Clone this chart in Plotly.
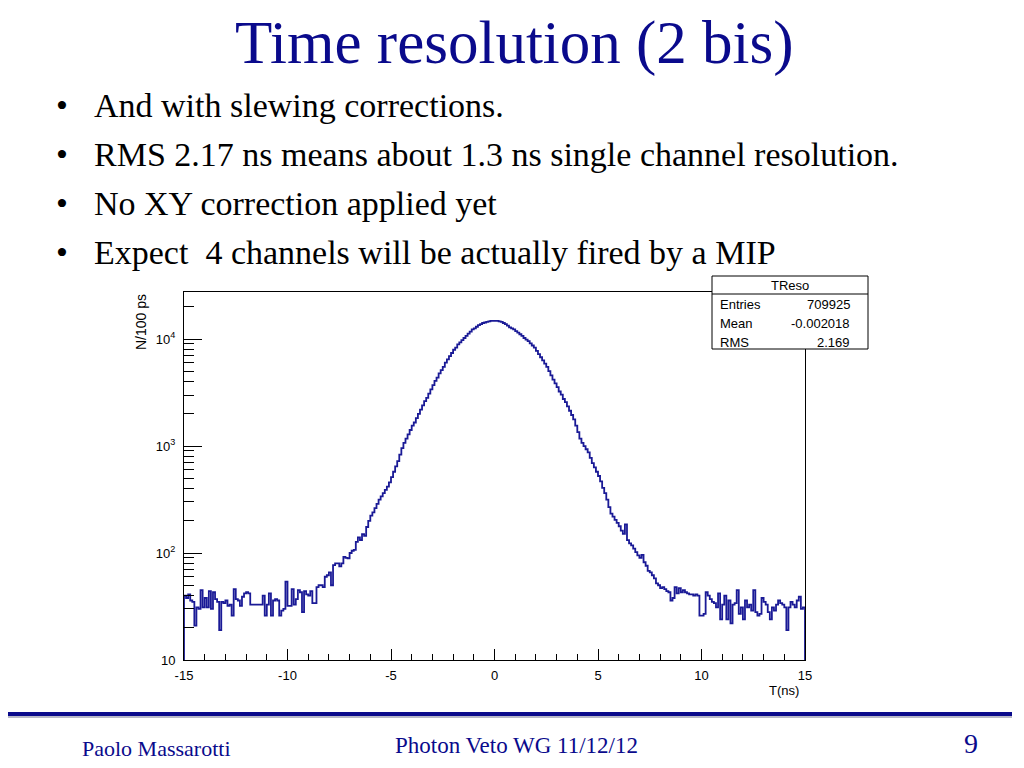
import numpy as np
import plotly.graph_objects as go

# ---------------- data ----------------
T_MIN, T_MAX, N_BINS = -15.0, 15.0, 300
Y_MIN_LOG, Y_MAX_LOG = 1.0, 4.44

# counts per 100 ps bin
left_tail = [40, 38, 41, 36, 35, 21, 31, 30, 45, 31,
             38, 31, 44, 30, 43, 37, 35, 19, 35, 34,
             36, 32, 33, 26, 46, 37, 36, 32, 39, 42,
             43, 42, 33, 33, 33, 33, 33, 33, 40, 26,
             33, 42, 26, 36, 37, 36, 26, 29, 30, 54,
             32, 32, 46, 33, 37, 45, 43, 28, 44, 41,
             40, 44, 34, 34, 48, 50, 50, 48, 60, 62,
             66, 50, 77, 80, 80, 75, 80, 92, 90, 89,
             100, 105, 107, 127]
core_left = [140, 132, 150, 145, 175, 200, 224, 240, 263, 288,
             316, 339, 363, 389, 417, 457, 513, 575, 646, 724,
             832, 955, 1072, 1175, 1288, 1413, 1549, 1660, 1820, 1995,
             2188, 2399, 2630, 2818, 3090, 3388, 3715, 4074, 4365, 4786,
             5129, 5495, 6026, 6457, 6918, 7413, 7943, 8318, 8913, 9333,
             9772, 10233, 10715, 11220, 11749, 12303, 12589, 13032, 13490, 13804,
             14125, 14289, 14454, 14622, 14791, 14791]
core_right = [14791, 14791, 14622, 14454, 14125, 13804, 13335, 12882, 12589, 12303,
              11885, 11482, 11092, 10715, 10233, 9886, 9550, 9120, 8710, 8318,
              7762, 7244, 6761, 6310, 5888, 5495, 5012, 4571, 4169, 3846,
              3548, 3236, 3020, 2754, 2570, 2344, 2138, 1950, 1778, 1549,
              1349, 1175, 1072, 1000, 933, 871, 776, 692, 631, 575,
              525, 468, 407, 363, 316, 269, 234, 219, 204, 191,
              178, 162, 151, 185, 132, 123]
right_tail = [118, 110, 102, 95, 90, 96, 82, 76, 68, 66,
              62, 58, 52, 50, 47, 48, 46, 44, 43, 36,
              38, 48, 42, 47, 43, 45, 43, 42, 41, 41,
              40, 41, 40, 26, 26, 27, 43, 40, 37, 35,
              34, 31, 42, 24, 33, 40, 24, 36, 22, 33,
              34, 45, 27, 31, 24, 36, 31, 33, 29, 45,
              28, 26, 27, 38, 35, 33, 28, 24, 31, 29,
              33, 36, 34, 33, 31, 19, 31, 35, 33, 31,
              36, 39, 30, 31]

counts = left_tail + core_left + core_right + right_tail
if len(counts) != N_BINS:
    raise ValueError(f"bad bin count {len(counts)}")

x_tickvals = [-15, -10, -5, 0, 5, 10, 15]
x_ticktext = ["-15", "-10", "-5", "0", "5", "10", "15"]
y_tickvals = [10, 100, 1000, 10000]
y_ticktext = ["10", "10<sup>2</sup>", "10<sup>3</sup>", "10<sup>4</sup>"]

title_text = "Time resolution (2 bis)"
bullets = ["And with slewing corrections.",
           "RMS 2.17 ns means about 1.3 ns single channel resolution.",
           "No XY correction applied yet",
           "Expect\u00a0 4 channels will be actually fired by a MIP"]
stat_name = "TReso"
stat_labels = ["Entries", "Mean", "RMS"]
stat_values = ["709925", "-0.002018", "2.169"]
footer_left = "Paolo Massarotti"
footer_mid = "Photon Veto WG 11/12/12"
footer_page = "9"
x_title = "T(ns)"
y_title = "N/100 ps"

# ---------------- layout geometry (page pixels) ----------------
OFF = 8
W, H = 1024 - 2 * OFF, 768 - 2 * OFF
X0, X1, Y0, Y1 = 184, 805, 292, 660


def px(X):
    return (X - X0) / (X1 - X0)


def py(Y):
    return (Y1 - Y) / (Y1 - Y0)


NAVY = "#0a0a8c"
HIST = "#1a1a96"
SERIF = "Liberation Serif, Times New Roman, serif"
SANS = "Liberation Sans, Arial, Helvetica, sans-serif"

edges = np.linspace(T_MIN, T_MAX, N_BINS + 1)
y_bottom = 10 ** Y_MIN_LOG
xs = [edges[0]] + list(edges) + [edges[-1]]
ys = [y_bottom] + list(counts) + [counts[-1], y_bottom]

fig = go.Figure()
fig.add_trace(go.Scatter(x=xs, y=ys, mode="lines", line=dict(color=HIST, width=1.8, shape="hv"),
                         hoverinfo="skip", showlegend=False))

minor_y = [m * 10 ** d for d in range(1, 5) for m in range(2, 10) if m * 10 ** d < 10 ** Y_MAX_LOG]

fig.update_layout(
    width=W, height=H, autosize=False,
    paper_bgcolor="white", plot_bgcolor="white",
    margin=dict(l=X0 - OFF, r=W - (X1 - OFF), t=Y0 - OFF, b=H - (Y1 - OFF), pad=0),
    showlegend=False,
    xaxis=dict(range=[T_MIN, T_MAX], tickvals=x_tickvals, ticktext=x_ticktext,
               ticks="inside", ticklen=11, ticklabelstandoff=3,
               tickwidth=1, tickcolor="black", showline=True, linecolor="black", linewidth=1,
               mirror=True, showgrid=False, zeroline=False,
               tickfont=dict(family=SANS, size=13, color="black"),
               minor=dict(dtick=1, ticks="inside", ticklen=6, tickcolor="black", tickwidth=1,
                          showgrid=False)),
    yaxis=dict(type="log", range=[Y_MIN_LOG, Y_MAX_LOG], tickvals=y_tickvals, ticktext=y_ticktext,
               ticks="inside", ticklen=18, ticklabelstandoff=5, tickwidth=1, tickcolor="black",
               showline=True,
               linecolor="black", linewidth=1, mirror=True, showgrid=False, zeroline=False,
               tickfont=dict(family=SANS, size=13, color="black"),
               minor=dict(tickvals=minor_y, ticks="inside", ticklen=10, tickcolor="black",
                          tickwidth=1, showgrid=False)),
)

shapes = []
# stat box
shapes.append(dict(type="rect", xref="paper", yref="paper", x0=px(712), x1=px(868), y0=py(349), y1=py(276),
                   fillcolor="white", line=dict(color="black", width=1), layer="above"))
shapes.append(dict(type="line", xref="paper", yref="paper", x0=px(712), x1=px(868), y0=py(294), y1=py(294),
                   line=dict(color="black", width=1), layer="above"))
# footer rule
shapes.append(dict(type="line", xref="paper", yref="paper", x0=px(0), x1=px(1012), y0=py(717), y1=py(717),
                   line=dict(color="#b8b8c8", width=2), layer="above"))
shapes.append(dict(type="line", xref="paper", yref="paper", x0=px(0), x1=px(1012), y0=py(714), y1=py(714),
                   line=dict(color=NAVY, width=4), layer="above"))
fig.update_layout(shapes=shapes)

ann = []


def add_text(text, X, Y, size, family, color, xanchor="center", angle=0):
    ann.append(dict(text=text, x=px(X), y=py(Y), xref="paper", yref="paper", showarrow=False,
                    xanchor=xanchor, yanchor="middle", textangle=angle,
                    font=dict(family=family, size=size, color=color)))


add_text(title_text, 514, 43, 61, SERIF, NAVY)
for i, b in enumerate(bullets):
    yc = 105 + i * 49
    add_text("•", 62, yc, 34, SERIF, "black")
    add_text(b, 92, yc, 34, SERIF, "black", xanchor="left")

add_text(stat_name, 790, 285, 13, SANS, "black")
for i, (lab, val) in enumerate(zip(stat_labels, stat_values)):
    yc = 304 + i * 19
    add_text(lab, 718, yc, 13, SANS, "black", xanchor="left")
    add_text(val, 852, yc, 13, SANS, "black", xanchor="right")

add_text(x_title, 801, 690, 13, SANS, "black", xanchor="right")
ann.append(dict(text=y_title, x=px(141), y=py(292), xref="paper", yref="paper", showarrow=False,
                xanchor="center", yanchor="top", textangle=-90,
                font=dict(family=SANS, size=14, color="black")))

add_text(footer_left, 80, 748, 22, SERIF, NAVY, xanchor="left")
add_text(footer_mid, 516, 745, 23, SERIF, NAVY)
add_text(footer_page, 971, 743, 28, SERIF, NAVY)

fig.update_layout(annotations=ann)
fig.write_html("out.html")
